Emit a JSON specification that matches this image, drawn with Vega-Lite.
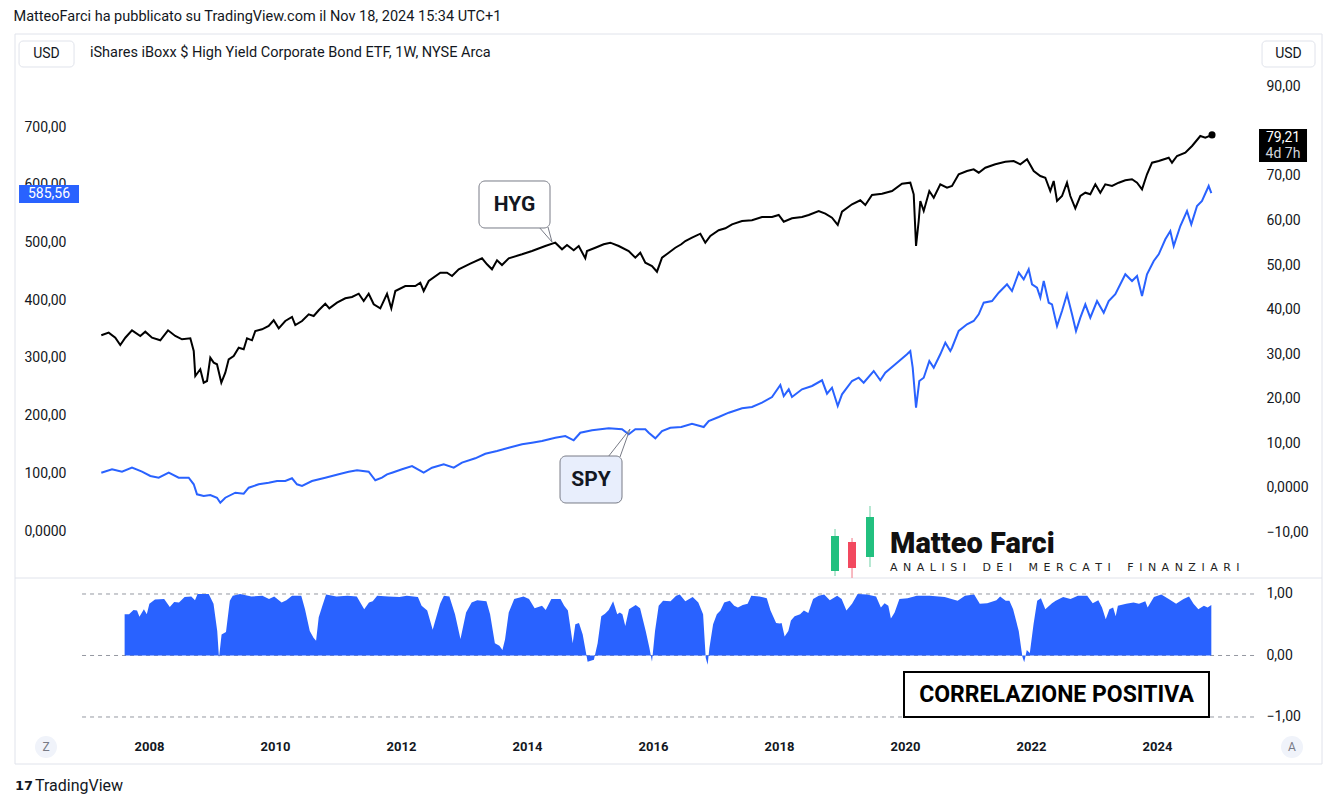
{
"$schema":"https://vega.github.io/schema/vega-lite/v6.json",
"background":"white",
"padding":{"left":13,"top":9,"right":0,"bottom":0},
"title":{"text":"MatteoFarci ha pubblicato su TradingView.com il Nov 18, 2024 15:34 UTC+1","anchor":"start","frame":"bounds","fontSize":14.5,"fontWeight":"normal","font":"Roboto","color":"#131722","offset":9,"dx":-1},
"spacing":0,
"bounds":"flush",
"config":{"view":{"stroke":null},"font":"Roboto","axis":{"labelFont":"Roboto","labelFontSize":14,"labelColor":"#131722"}},
"datasets":{
"spy":[{"t":2007.243,"v":101.0},{"t":2007.413,"v":106.9},{"t":2007.571,"v":102.8},{"t":2007.730,"v":109.7},{"t":2007.889,"v":102.8},{"t":2008.021,"v":95.3},{"t":2008.154,"v":92.4},{"t":2008.313,"v":101.0},{"t":2008.471,"v":92.4},{"t":2008.630,"v":92.4},{"t":2008.710,"v":80.9},{"t":2008.762,"v":63.6},{"t":2008.868,"v":60.6},{"t":2008.973,"v":62.4},{"t":2009.079,"v":57.7},{"t":2009.132,"v":49.0},{"t":2009.211,"v":57.7},{"t":2009.370,"v":66.4},{"t":2009.503,"v":64.6},{"t":2009.583,"v":75.0},{"t":2009.741,"v":80.9},{"t":2009.900,"v":83.7},{"t":2010.032,"v":86.6},{"t":2010.163,"v":86.6},{"t":2010.270,"v":91.3},{"t":2010.349,"v":80.9},{"t":2010.429,"v":78.0},{"t":2010.587,"v":86.6},{"t":2010.798,"v":92.4},{"t":2011.011,"v":98.2},{"t":2011.170,"v":102.8},{"t":2011.302,"v":105.2},{"t":2011.487,"v":102.8},{"t":2011.592,"v":87.9},{"t":2011.698,"v":92.4},{"t":2011.778,"v":98.2},{"t":2011.857,"v":101.0},{"t":2012.016,"v":106.9},{"t":2012.175,"v":112.6},{"t":2012.360,"v":101.0},{"t":2012.492,"v":109.7},{"t":2012.678,"v":115.6},{"t":2012.837,"v":109.7},{"t":2012.968,"v":118.4},{"t":2013.179,"v":126.0},{"t":2013.338,"v":133.9},{"t":2013.524,"v":138.6},{"t":2013.710,"v":144.3},{"t":2013.921,"v":150.2},{"t":2014.079,"v":153.0},{"t":2014.238,"v":156.0},{"t":2014.449,"v":161.7},{"t":2014.608,"v":164.6},{"t":2014.741,"v":157.2},{"t":2014.846,"v":170.3},{"t":2015.032,"v":174.5},{"t":2015.297,"v":178.0},{"t":2015.508,"v":176.2},{"t":2015.614,"v":167.6},{"t":2015.719,"v":176.2},{"t":2015.878,"v":176.2},{"t":2015.932,"v":170.3},{"t":2016.037,"v":160.6},{"t":2016.143,"v":173.3},{"t":2016.275,"v":179.0},{"t":2016.449,"v":180.2},{"t":2016.619,"v":185.9},{"t":2016.805,"v":180.2},{"t":2016.884,"v":190.6},{"t":2017.043,"v":197.5},{"t":2017.202,"v":205.0},{"t":2017.413,"v":212.6},{"t":2017.571,"v":214.9},{"t":2017.730,"v":222.3},{"t":2017.889,"v":232.2},{"t":2018.021,"v":253.0},{"t":2018.075,"v":233.9},{"t":2018.154,"v":245.5},{"t":2018.206,"v":232.2},{"t":2018.365,"v":245.5},{"t":2018.524,"v":251.3},{"t":2018.683,"v":261.1},{"t":2018.762,"v":237.9},{"t":2018.841,"v":248.3},{"t":2018.932,"v":216.6},{"t":2019.000,"v":236.9},{"t":2019.159,"v":259.9},{"t":2019.265,"v":265.6},{"t":2019.344,"v":257.0},{"t":2019.503,"v":277.2},{"t":2019.608,"v":261.1},{"t":2019.687,"v":274.3},{"t":2019.846,"v":288.9},{"t":2020.032,"v":306.2},{"t":2020.084,"v":311.9},{"t":2020.122,"v":283.0},{"t":2020.175,"v":213.7},{"t":2020.227,"v":259.9},{"t":2020.297,"v":265.6},{"t":2020.386,"v":294.6},{"t":2020.456,"v":283.0},{"t":2020.560,"v":306.2},{"t":2020.640,"v":326.3},{"t":2020.719,"v":311.9},{"t":2020.746,"v":317.6},{"t":2020.852,"v":346.6},{"t":2020.984,"v":358.2},{"t":2021.090,"v":363.9},{"t":2021.170,"v":375.5},{"t":2021.249,"v":395.6},{"t":2021.381,"v":398.5},{"t":2021.487,"v":412.9},{"t":2021.619,"v":427.5},{"t":2021.698,"v":415.9},{"t":2021.805,"v":447.6},{"t":2021.884,"v":436.1},{"t":2021.963,"v":453.5},{"t":2022.016,"v":427.5},{"t":2022.095,"v":421.6},{"t":2022.148,"v":404.3},{"t":2022.202,"v":433.2},{"t":2022.281,"v":395.6},{"t":2022.333,"v":392.8},{"t":2022.413,"v":355.2},{"t":2022.492,"v":381.2},{"t":2022.571,"v":410.2},{"t":2022.651,"v":375.5},{"t":2022.714,"v":346.6},{"t":2022.783,"v":369.6},{"t":2022.862,"v":392.8},{"t":2022.941,"v":369.6},{"t":2023.048,"v":398.5},{"t":2023.154,"v":378.3},{"t":2023.233,"v":398.5},{"t":2023.338,"v":410.2},{"t":2023.497,"v":444.8},{"t":2023.603,"v":433.2},{"t":2023.683,"v":441.9},{"t":2023.762,"v":407.2},{"t":2023.841,"v":444.8},{"t":2023.948,"v":467.9},{"t":2024.027,"v":479.5},{"t":2024.132,"v":505.5},{"t":2024.211,"v":519.8},{"t":2024.265,"v":493.8},{"t":2024.370,"v":528.5},{"t":2024.476,"v":554.5},{"t":2024.544,"v":531.4},{"t":2024.635,"v":563.2},{"t":2024.714,"v":571.8},{"t":2024.820,"v":597.8},{"t":2024.862,"v":585.56}],
"hyg":[{"t":2007.243,"v":34.25},{"t":2007.360,"v":34.84},{"t":2007.465,"v":33.71},{"t":2007.544,"v":32.08},{"t":2007.624,"v":33.71},{"t":2007.730,"v":35.37},{"t":2007.862,"v":34.10},{"t":2007.941,"v":35.06},{"t":2008.048,"v":33.71},{"t":2008.179,"v":33.13},{"t":2008.302,"v":35.37},{"t":2008.417,"v":34.10},{"t":2008.524,"v":33.36},{"t":2008.656,"v":33.58},{"t":2008.710,"v":30.73},{"t":2008.735,"v":25.12},{"t":2008.814,"v":26.63},{"t":2008.868,"v":23.62},{"t":2008.921,"v":24.00},{"t":2008.973,"v":29.23},{"t":2009.027,"v":28.11},{"t":2009.079,"v":27.75},{"t":2009.148,"v":23.62},{"t":2009.211,"v":25.86},{"t":2009.265,"v":28.87},{"t":2009.344,"v":29.61},{"t":2009.424,"v":31.47},{"t":2009.503,"v":31.11},{"t":2009.556,"v":33.58},{"t":2009.635,"v":33.13},{"t":2009.687,"v":35.22},{"t":2009.794,"v":35.60},{"t":2009.900,"v":36.34},{"t":2009.979,"v":37.62},{"t":2010.059,"v":35.82},{"t":2010.163,"v":37.46},{"t":2010.270,"v":38.36},{"t":2010.322,"v":36.56},{"t":2010.429,"v":37.46},{"t":2010.535,"v":38.96},{"t":2010.614,"v":38.58},{"t":2010.694,"v":39.86},{"t":2010.798,"v":41.34},{"t":2010.862,"v":40.31},{"t":2010.984,"v":41.57},{"t":2011.116,"v":42.55},{"t":2011.222,"v":42.84},{"t":2011.329,"v":43.58},{"t":2011.408,"v":41.95},{"t":2011.487,"v":43.58},{"t":2011.567,"v":41.21},{"t":2011.671,"v":40.31},{"t":2011.778,"v":43.58},{"t":2011.846,"v":40.31},{"t":2011.910,"v":44.19},{"t":2012.068,"v":45.31},{"t":2012.227,"v":45.31},{"t":2012.306,"v":46.05},{"t":2012.360,"v":44.19},{"t":2012.440,"v":46.43},{"t":2012.624,"v":48.30},{"t":2012.730,"v":48.30},{"t":2012.810,"v":47.56},{"t":2012.916,"v":49.06},{"t":2013.100,"v":50.31},{"t":2013.286,"v":51.53},{"t":2013.365,"v":50.18},{"t":2013.444,"v":49.06},{"t":2013.524,"v":51.08},{"t":2013.603,"v":50.02},{"t":2013.710,"v":51.53},{"t":2013.921,"v":52.42},{"t":2014.079,"v":53.16},{"t":2014.290,"v":54.28},{"t":2014.449,"v":55.03},{"t":2014.556,"v":53.54},{"t":2014.635,"v":54.51},{"t":2014.741,"v":53.32},{"t":2014.821,"v":54.28},{"t":2014.925,"v":51.53},{"t":2014.952,"v":53.16},{"t":2015.084,"v":53.90},{"t":2015.217,"v":54.67},{"t":2015.322,"v":55.03},{"t":2015.456,"v":54.28},{"t":2015.614,"v":53.16},{"t":2015.719,"v":51.66},{"t":2015.798,"v":52.78},{"t":2015.878,"v":50.54},{"t":2015.984,"v":49.80},{"t":2016.063,"v":48.52},{"t":2016.143,"v":51.66},{"t":2016.249,"v":52.78},{"t":2016.354,"v":53.90},{"t":2016.449,"v":54.67},{"t":2016.513,"v":55.41},{"t":2016.619,"v":56.15},{"t":2016.751,"v":57.04},{"t":2016.830,"v":55.03},{"t":2016.910,"v":56.53},{"t":2017.043,"v":57.81},{"t":2017.148,"v":58.25},{"t":2017.254,"v":59.15},{"t":2017.413,"v":59.89},{"t":2017.571,"v":60.05},{"t":2017.730,"v":60.79},{"t":2017.889,"v":60.79},{"t":2017.995,"v":61.24},{"t":2018.075,"v":59.74},{"t":2018.206,"v":60.50},{"t":2018.365,"v":60.79},{"t":2018.471,"v":61.24},{"t":2018.630,"v":62.14},{"t":2018.735,"v":61.53},{"t":2018.841,"v":60.63},{"t":2018.932,"v":59.00},{"t":2019.000,"v":61.98},{"t":2019.159,"v":63.64},{"t":2019.290,"v":64.54},{"t":2019.370,"v":63.48},{"t":2019.476,"v":65.72},{"t":2019.635,"v":66.02},{"t":2019.794,"v":66.62},{"t":2019.952,"v":68.26},{"t":2020.084,"v":68.48},{"t":2020.138,"v":65.88},{"t":2020.175,"v":54.28},{"t":2020.217,"v":59.89},{"t":2020.243,"v":64.38},{"t":2020.297,"v":62.14},{"t":2020.386,"v":66.62},{"t":2020.456,"v":65.12},{"t":2020.560,"v":68.12},{"t":2020.667,"v":67.36},{"t":2020.746,"v":67.74},{"t":2020.852,"v":70.37},{"t":2020.984,"v":71.11},{"t":2021.090,"v":71.49},{"t":2021.170,"v":70.73},{"t":2021.275,"v":71.85},{"t":2021.433,"v":72.61},{"t":2021.592,"v":73.19},{"t":2021.725,"v":73.35},{"t":2021.830,"v":72.61},{"t":2021.937,"v":73.73},{"t":2022.043,"v":71.11},{"t":2022.148,"v":69.99},{"t":2022.227,"v":69.61},{"t":2022.306,"v":66.62},{"t":2022.360,"v":68.86},{"t":2022.413,"v":64.38},{"t":2022.492,"v":65.50},{"t":2022.571,"v":68.48},{"t":2022.624,"v":65.50},{"t":2022.703,"v":62.74},{"t":2022.783,"v":65.50},{"t":2022.862,"v":66.24},{"t":2022.941,"v":65.88},{"t":2023.021,"v":68.12},{"t":2023.100,"v":66.24},{"t":2023.179,"v":68.12},{"t":2023.286,"v":67.74},{"t":2023.392,"v":68.48},{"t":2023.497,"v":69.02},{"t":2023.603,"v":69.25},{"t":2023.683,"v":68.48},{"t":2023.762,"v":67.00},{"t":2023.841,"v":70.37},{"t":2023.921,"v":72.97},{"t":2024.027,"v":73.35},{"t":2024.186,"v":74.09},{"t":2024.238,"v":72.97},{"t":2024.317,"v":74.47},{"t":2024.449,"v":75.21},{"t":2024.556,"v":76.72},{"t":2024.687,"v":78.96},{"t":2024.767,"v":78.58},{"t":2024.873,"v":79.21}],
"corr":[{"t":2007.613,"c":0.67},{"t":2007.683,"c":0.67},{"t":2007.754,"c":0.74},{"t":2007.810,"c":0.73},{"t":2007.848,"c":0.63},{"t":2007.919,"c":0.75},{"t":2007.965,"c":0.67},{"t":2008.006,"c":0.84},{"t":2008.095,"c":0.91},{"t":2008.241,"c":0.92},{"t":2008.330,"c":0.79},{"t":2008.400,"c":0.87},{"t":2008.476,"c":0.86},{"t":2008.565,"c":0.95},{"t":2008.671,"c":0.96},{"t":2008.730,"c":0.90},{"t":2008.771,"c":1.0},{"t":2008.948,"c":1.0},{"t":2009.024,"c":0.84},{"t":2009.083,"c":0.40},{"t":2009.111,"c":-0.04},{"t":2009.152,"c":0.34},{"t":2009.222,"c":0.38},{"t":2009.283,"c":0.89},{"t":2009.329,"c":0.97},{"t":2009.446,"c":1.0},{"t":2009.624,"c":0.96},{"t":2009.800,"c":0.97},{"t":2009.905,"c":0.92},{"t":2009.987,"c":0.96},{"t":2010.105,"c":0.86},{"t":2010.181,"c":0.90},{"t":2010.270,"c":0.97},{"t":2010.417,"c":0.97},{"t":2010.476,"c":0.75},{"t":2010.552,"c":0.40},{"t":2010.611,"c":0.29},{"t":2010.652,"c":0.24},{"t":2010.694,"c":0.62},{"t":2010.752,"c":0.81},{"t":2010.811,"c":0.99},{"t":2010.975,"c":0.96},{"t":2011.152,"c":0.97},{"t":2011.298,"c":0.96},{"t":2011.416,"c":0.75},{"t":2011.492,"c":0.86},{"t":2011.551,"c":0.88},{"t":2011.622,"c":0.97},{"t":2011.798,"c":0.96},{"t":2011.975,"c":0.95},{"t":2012.092,"c":0.97},{"t":2012.268,"c":0.95},{"t":2012.327,"c":0.81},{"t":2012.416,"c":0.73},{"t":2012.503,"c":0.42},{"t":2012.533,"c":0.53},{"t":2012.621,"c":0.84},{"t":2012.681,"c":0.97},{"t":2012.768,"c":0.96},{"t":2012.857,"c":0.67},{"t":2012.944,"c":0.27},{"t":2013.033,"c":0.70},{"t":2013.121,"c":0.86},{"t":2013.210,"c":0.90},{"t":2013.356,"c":0.88},{"t":2013.414,"c":0.67},{"t":2013.490,"c":0.20},{"t":2013.562,"c":0.16},{"t":2013.610,"c":0.09},{"t":2013.651,"c":0.26},{"t":2013.710,"c":0.70},{"t":2013.797,"c":0.92},{"t":2013.944,"c":0.96},{"t":2014.032,"c":0.92},{"t":2014.121,"c":0.77},{"t":2014.238,"c":0.81},{"t":2014.297,"c":0.74},{"t":2014.386,"c":0.92},{"t":2014.532,"c":0.92},{"t":2014.590,"c":0.81},{"t":2014.649,"c":0.73},{"t":2014.725,"c":0.20},{"t":2014.767,"c":0.51},{"t":2014.825,"c":0.53},{"t":2014.884,"c":0.34},{"t":2014.962,"c":-0.10},{"t":2015.062,"c":-0.07},{"t":2015.121,"c":0.20},{"t":2015.179,"c":0.64},{"t":2015.238,"c":0.68},{"t":2015.297,"c":0.74},{"t":2015.367,"c":0.88},{"t":2015.432,"c":0.67},{"t":2015.473,"c":0.70},{"t":2015.514,"c":0.67},{"t":2015.560,"c":0.48},{"t":2015.619,"c":0.75},{"t":2015.725,"c":0.82},{"t":2015.795,"c":0.77},{"t":2015.884,"c":0.40},{"t":2015.943,"c":0.12},{"t":2015.984,"c":-0.10},{"t":2016.032,"c":0.40},{"t":2016.090,"c":0.81},{"t":2016.160,"c":0.89},{"t":2016.278,"c":0.88},{"t":2016.367,"c":0.97},{"t":2016.425,"c":0.99},{"t":2016.513,"c":0.88},{"t":2016.630,"c":0.95},{"t":2016.719,"c":0.86},{"t":2016.795,"c":0.67},{"t":2016.837,"c":-0.04},{"t":2016.867,"c":-0.15},{"t":2016.895,"c":0.12},{"t":2016.954,"c":0.51},{"t":2017.013,"c":0.67},{"t":2017.071,"c":0.73},{"t":2017.130,"c":0.86},{"t":2017.219,"c":0.89},{"t":2017.289,"c":0.81},{"t":2017.348,"c":0.78},{"t":2017.424,"c":0.82},{"t":2017.502,"c":0.84},{"t":2017.560,"c":0.97},{"t":2017.689,"c":0.96},{"t":2017.806,"c":0.93},{"t":2017.865,"c":0.73},{"t":2017.954,"c":0.53},{"t":2018.013,"c":0.52},{"t":2018.041,"c":0.53},{"t":2018.089,"c":0.31},{"t":2018.148,"c":0.40},{"t":2018.189,"c":0.57},{"t":2018.248,"c":0.64},{"t":2018.335,"c":0.67},{"t":2018.395,"c":0.73},{"t":2018.465,"c":0.69},{"t":2018.541,"c":0.92},{"t":2018.630,"c":0.97},{"t":2018.717,"c":0.99},{"t":2018.806,"c":0.90},{"t":2018.924,"c":0.97},{"t":2018.994,"c":0.92},{"t":2019.070,"c":0.73},{"t":2019.159,"c":0.84},{"t":2019.248,"c":1.0},{"t":2019.394,"c":0.99},{"t":2019.541,"c":0.96},{"t":2019.617,"c":0.78},{"t":2019.676,"c":0.85},{"t":2019.735,"c":0.81},{"t":2019.776,"c":0.60},{"t":2019.835,"c":0.70},{"t":2019.911,"c":0.92},{"t":2020.041,"c":0.93},{"t":2020.187,"c":0.97},{"t":2020.394,"c":0.97},{"t":2020.629,"c":0.95},{"t":2020.835,"c":0.89},{"t":2020.952,"c":0.97},{"t":2021.098,"c":0.99},{"t":2021.187,"c":0.84},{"t":2021.305,"c":0.85},{"t":2021.451,"c":0.90},{"t":2021.510,"c":0.96},{"t":2021.598,"c":0.89},{"t":2021.657,"c":0.89},{"t":2021.716,"c":0.75},{"t":2021.805,"c":0.40},{"t":2021.863,"c":-0.02},{"t":2021.892,"c":-0.11},{"t":2021.933,"c":0.09},{"t":2021.981,"c":0.04},{"t":2022.040,"c":0.51},{"t":2022.098,"c":0.89},{"t":2022.157,"c":0.93},{"t":2022.227,"c":0.75},{"t":2022.333,"c":0.85},{"t":2022.392,"c":0.89},{"t":2022.510,"c":0.95},{"t":2022.627,"c":0.92},{"t":2022.744,"c":0.97},{"t":2022.892,"c":0.97},{"t":2022.979,"c":0.85},{"t":2023.068,"c":0.90},{"t":2023.127,"c":0.78},{"t":2023.186,"c":0.59},{"t":2023.244,"c":0.75},{"t":2023.303,"c":0.78},{"t":2023.344,"c":0.64},{"t":2023.379,"c":0.81},{"t":2023.510,"c":0.84},{"t":2023.627,"c":0.86},{"t":2023.714,"c":0.84},{"t":2023.814,"c":0.88},{"t":2023.851,"c":0.78},{"t":2023.951,"c":0.95},{"t":2024.068,"c":0.99},{"t":2024.186,"c":0.92},{"t":2024.303,"c":0.84},{"t":2024.421,"c":0.92},{"t":2024.508,"c":0.96},{"t":2024.579,"c":0.84},{"t":2024.656,"c":0.75},{"t":2024.744,"c":0.81},{"t":2024.803,"c":0.78},{"t":2024.862,"c":0.82}]
},
"vconcat":[
{
"width":1242,"height":544,
"resolve":{"scale":{"x":"independent","y":"independent"}},
"layer":[
{"data":{"values":[{}]},"mark":{"type":"rect","filled":false,"color":"#e0e3eb","strokeWidth":1,"clip":false},"encoding":{"x":{"datum":2005.873,"type":"quantitative","scale":{"domain":[2005.873,2025.587],"nice":false,"zero":false},"axis":null},"x2":{"datum":2026.619},"y":{"datum":861.2,"type":"quantitative","scale":{"domain":[-81.44,861.2],"nice":false,"zero":false},"axis":null},"y2":{"datum":-403.74}}},
{"data":{"values":[{}]},"mark":{"type":"rule","color":"#e0e3eb","strokeWidth":1,"clip":false},"encoding":{"x":{"datum":2005.873,"type":"quantitative","scale":{"domain":[2005.873,2025.587],"nice":false,"zero":false},"axis":null},"x2":{"datum":2026.619},"y":{"datum":-81.44,"type":"quantitative","scale":{"domain":[-81.44,861.2],"nice":false,"zero":false},"axis":null}}},
{"data":{"name":"spy"},"mark":{"type":"line","color":"#2962FF","strokeWidth":2},"encoding":{"x":{"field":"t","type":"quantitative","scale":{"domain":[2005.873,2025.587],"nice":false,"zero":false},"axis":null},"y":{"field":"v","type":"quantitative","scale":{"domain":[-81.44,861.2],"nice":false,"zero":false},"axis":{"orient":"left","values":[0,100,200,300,400,500,600,700],"labelExpr":"datum.value == 0 ? '0,0000' : replace(format(datum.value, '.2f'), '.', ',')","offset":-51,"labelPadding":0,"ticks":false,"domain":false,"grid":false,"zindex":0,"title":null}}}},
{"data":{"values":[{}]},"mark":{"type":"rule","color":"#787b86","strokeWidth":1,"clip":false},"encoding":{"x":{"datum":2014.190,"type":"quantitative","scale":{"domain":[2005.873,2025.587],"nice":false,"zero":false},"axis":null},"x2":{"datum":2014.397},"y":{"datum":526.77,"type":"quantitative","scale":{"domain":[-81.44,861.2],"nice":false,"zero":false},"axis":null},"y2":{"datum":500.78}}},
{"data":{"values":[{}]},"mark":{"type":"rule","color":"#787b86","strokeWidth":1,"clip":false},"encoding":{"x":{"datum":2014.397,"type":"quantitative","scale":{"domain":[2005.873,2025.587],"nice":false,"zero":false},"axis":null},"x2":{"datum":2014.333},"y":{"datum":500.78,"type":"quantitative","scale":{"domain":[-81.44,861.2],"nice":false,"zero":false},"axis":null},"y2":{"datum":526.77}}},
{"data":{"values":[{}]},"mark":{"type":"rect","fill":"white","stroke":"#787b86","strokeWidth":1,"cornerRadius":6,"clip":false},"encoding":{"x":{"datum":2013.238,"type":"quantitative","scale":{"domain":[2005.873,2025.587],"nice":false,"zero":false},"axis":null},"x2":{"datum":2014.365},"y":{"datum":606.48,"type":"quantitative","scale":{"domain":[-81.44,861.2],"nice":false,"zero":false},"axis":null},"y2":{"datum":525.04}}},
{"data":{"values":[{}]},"mark":{"type":"text","text":"HYG","font":"Roboto","fontSize":21,"fontWeight":"bold","color":"#131722","align":"center","baseline":"middle","clip":false},"encoding":{"x":{"datum":2013.802,"type":"quantitative","scale":{"domain":[2005.873,2025.587],"nice":false,"zero":false},"axis":null},"y":{"datum":564.89,"type":"quantitative","scale":{"domain":[-81.44,861.2],"nice":false,"zero":false},"axis":null}}},
{"data":{"values":[{}]},"mark":{"type":"rule","color":"#787b86","strokeWidth":1,"clip":false},"encoding":{"x":{"datum":2015.286,"type":"quantitative","scale":{"domain":[2005.873,2025.587],"nice":false,"zero":false},"axis":null},"x2":{"datum":2015.635},"y":{"datum":128.23,"type":"quantitative","scale":{"domain":[-81.44,861.2],"nice":false,"zero":false},"axis":null},"y2":{"datum":176.75}}},
{"data":{"values":[{}]},"mark":{"type":"rule","color":"#787b86","strokeWidth":1,"clip":false},"encoding":{"x":{"datum":2015.635,"type":"quantitative","scale":{"domain":[2005.873,2025.587],"nice":false,"zero":false},"axis":null},"x2":{"datum":2015.476},"y":{"datum":176.75,"type":"quantitative","scale":{"domain":[-81.44,861.2],"nice":false,"zero":false},"axis":null},"y2":{"datum":128.23}}},
{"data":{"values":[{}]},"mark":{"type":"rect","fill":"#e8eefc","stroke":"#787b86","strokeWidth":1,"cornerRadius":6,"clip":false},"encoding":{"x":{"datum":2014.524,"type":"quantitative","scale":{"domain":[2005.873,2025.587],"nice":false,"zero":false},"axis":null},"x2":{"datum":2015.508},"y":{"datum":129.96,"type":"quantitative","scale":{"domain":[-81.44,861.2],"nice":false,"zero":false},"axis":null},"y2":{"datum":48.52}}},
{"data":{"values":[{}]},"mark":{"type":"text","text":"SPY","font":"Roboto","fontSize":21,"fontWeight":"bold","color":"#131722","align":"center","baseline":"middle","clip":false},"encoding":{"x":{"datum":2015.016,"type":"quantitative","scale":{"domain":[2005.873,2025.587],"nice":false,"zero":false},"axis":null},"y":{"datum":88.37,"type":"quantitative","scale":{"domain":[-81.44,861.2],"nice":false,"zero":false},"axis":null}}},
{"data":{"values":[{}]},"mark":{"type":"rect","fill":"#2962FF","clip":false},"encoding":{"x":{"datum":2005.937,"type":"quantitative","scale":{"domain":[2005.873,2025.587],"nice":false,"zero":false},"axis":null},"x2":{"datum":2006.889},"y":{"datum":599.55,"type":"quantitative","scale":{"domain":[-81.44,861.2],"nice":false,"zero":false},"axis":null},"y2":{"datum":568.36}}},
{"data":{"values":[{}]},"mark":{"type":"text","text":"585,56","font":"Roboto","fontSize":14,"color":"white","align":"center","baseline":"middle","clip":false},"encoding":{"x":{"datum":2006.413,"type":"quantitative","scale":{"domain":[2005.873,2025.587],"nice":false,"zero":false},"axis":null},"y":{"datum":583.95,"type":"quantitative","scale":{"domain":[-81.44,861.2],"nice":false,"zero":false},"axis":null}}},
{"data":{"values":[{}]},"mark":{"type":"text","text":"iShares iBoxx $ High Yield Corporate Bond ETF, 1W, NYSE Arca","font":"Roboto","fontSize":14.5,"color":"#131722","align":"left","baseline":"middle","clip":false},"encoding":{"x":{"datum":2007.063,"type":"quantitative","scale":{"domain":[2005.873,2025.587],"nice":false,"zero":false},"axis":null},"y":{"datum":828.28,"type":"quantitative","scale":{"domain":[-81.44,861.2],"nice":false,"zero":false},"axis":null}}},
{"data":{"values":[{}]},"mark":{"type":"rect","fill":"white","stroke":"#e0e3eb","strokeWidth":1,"cornerRadius":4,"clip":false},"encoding":{"x":{"datum":2005.937,"type":"quantitative","scale":{"domain":[2005.873,2025.587],"nice":false,"zero":false},"axis":null},"x2":{"datum":2006.810},"y":{"datum":849.07,"type":"quantitative","scale":{"domain":[-81.44,861.2],"nice":false,"zero":false},"axis":null},"y2":{"datum":804.02}}},
{"data":{"values":[{}]},"mark":{"type":"text","text":"USD","font":"Roboto","fontSize":14,"color":"#131722","align":"center","baseline":"middle","clip":false},"encoding":{"x":{"datum":2006.373,"type":"quantitative","scale":{"domain":[2005.873,2025.587],"nice":false,"zero":false},"axis":null},"y":{"datum":826.55,"type":"quantitative","scale":{"domain":[-81.44,861.2],"nice":false,"zero":false},"axis":null}}},
{"data":{"values":[{}]},"mark":{"type":"rect","fill":"white","stroke":"#e0e3eb","strokeWidth":1,"cornerRadius":4,"clip":false},"encoding":{"x":{"datum":2025.667,"type":"quantitative","scale":{"domain":[2005.873,2025.587],"nice":false,"zero":false},"axis":null},"x2":{"datum":2026.508},"y":{"datum":849.07,"type":"quantitative","scale":{"domain":[-81.44,861.2],"nice":false,"zero":false},"axis":null},"y2":{"datum":804.02}}},
{"data":{"values":[{}]},"mark":{"type":"text","text":"USD","font":"Roboto","fontSize":14,"color":"#131722","align":"center","baseline":"middle","clip":false},"encoding":{"x":{"datum":2026.087,"type":"quantitative","scale":{"domain":[2005.873,2025.587],"nice":false,"zero":false},"axis":null},"y":{"datum":826.55,"type":"quantitative","scale":{"domain":[-81.44,861.2],"nice":false,"zero":false},"axis":null}}},
{"data":{"values":[{}]},"mark":{"type":"rule","color":"#9fe0c3","strokeWidth":1.5,"clip":false},"encoding":{"x":{"datum":2018.889,"type":"quantitative","scale":{"domain":[2005.873,2025.587],"nice":false,"zero":false},"axis":null},"y":{"datum":3.47,"type":"quantitative","scale":{"domain":[-81.44,861.2],"nice":false,"zero":false},"axis":null},"y2":{"datum":-77.98}}},
{"data":{"values":[{}]},"mark":{"type":"rect","fill":"#22c07f","clip":false},"encoding":{"x":{"datum":2018.825,"type":"quantitative","scale":{"domain":[2005.873,2025.587],"nice":false,"zero":false},"axis":null},"x2":{"datum":2018.952},"y":{"datum":-8.66,"type":"quantitative","scale":{"domain":[-81.44,861.2],"nice":false,"zero":false},"axis":null},"y2":{"datum":-69.31}}},
{"data":{"values":[{}]},"mark":{"type":"rule","color":"#f5a3ad","strokeWidth":1.5,"clip":false},"encoding":{"x":{"datum":2019.159,"type":"quantitative","scale":{"domain":[2005.873,2025.587],"nice":false,"zero":false},"axis":null},"y":{"datum":-12.13,"type":"quantitative","scale":{"domain":[-81.44,861.2],"nice":false,"zero":false},"axis":null},"y2":{"datum":-81.44}}},
{"data":{"values":[{}]},"mark":{"type":"rect","fill":"#f2495f","clip":false},"encoding":{"x":{"datum":2019.095,"type":"quantitative","scale":{"domain":[2005.873,2025.587],"nice":false,"zero":false},"axis":null},"x2":{"datum":2019.222},"y":{"datum":-19.06,"type":"quantitative","scale":{"domain":[-81.44,861.2],"nice":false,"zero":false},"axis":null},"y2":{"datum":-64.11}}},
{"data":{"values":[{}]},"mark":{"type":"rule","color":"#9fe0c3","strokeWidth":1.5,"clip":false},"encoding":{"x":{"datum":2019.444,"type":"quantitative","scale":{"domain":[2005.873,2025.587],"nice":false,"zero":false},"axis":null},"y":{"datum":43.32,"type":"quantitative","scale":{"domain":[-81.44,861.2],"nice":false,"zero":false},"axis":null},"y2":{"datum":-62.38}}},
{"data":{"values":[{}]},"mark":{"type":"rect","fill":"#22c07f","clip":false},"encoding":{"x":{"datum":2019.381,"type":"quantitative","scale":{"domain":[2005.873,2025.587],"nice":false,"zero":false},"axis":null},"x2":{"datum":2019.508},"y":{"datum":24.26,"type":"quantitative","scale":{"domain":[-81.44,861.2],"nice":false,"zero":false},"axis":null},"y2":{"datum":-45.05}}},
{"data":{"values":[{}]},"mark":{"type":"text","text":"Matteo Farci","font":"Roboto","fontSize":29,"fontWeight":900,"color":"#111111","align":"left","baseline":"alphabetic","clip":false},"encoding":{"x":{"datum":2019.762,"type":"quantitative","scale":{"domain":[2005.873,2025.587],"nice":false,"zero":false},"axis":null},"y":{"datum":-38.12,"type":"quantitative","scale":{"domain":[-81.44,861.2],"nice":false,"zero":false},"axis":null}}},
{"data":{"values":[{}]},"mark":{"type":"text","text":"A\u2002N\u2002A\u2002L\u2002I\u2002S\u2002I\u2002\u2002\u2002D\u2002E\u2002I\u2002\u2002\u2002M\u2002E\u2002R\u2002C\u2002A\u2002T\u2002I\u2002\u2002\u2002F\u2002I\u2002N\u2002A\u2002N\u2002Z\u2002I\u2002A\u2002R\u2002I","font":"DejaVu Sans","fontSize":11,"color":"#222222","align":"left","baseline":"alphabetic","clip":false},"encoding":{"x":{"datum":2019.762,"type":"quantitative","scale":{"domain":[2005.873,2025.587],"nice":false,"zero":false},"axis":null},"y":{"datum":-69.31,"type":"quantitative","scale":{"domain":[-81.44,861.2],"nice":false,"zero":false},"axis":null}}},
{"data":{"name":"hyg"},"mark":{"type":"line","color":"#000000","strokeWidth":2},"encoding":{"x":{"field":"t","type":"quantitative","scale":{"domain":[2005.873,2025.587],"nice":false,"zero":false},"axis":null},"y":{"field":"v","type":"quantitative","scale":{"domain":[-20.19,101.84],"nice":false,"zero":false},"axis":{"orient":"right","values":[-10,0,10,20,30,40,50,60,70,90],"labelExpr":"datum.value == 0 ? '0,0000' : replace(format(datum.value, '.2f'), '.', ',')","labelPadding":9,"ticks":false,"domain":false,"grid":false,"zindex":0,"title":null}}}},
{"data":{"values":[{}]},"mark":{"type":"point","filled":true,"size":50,"color":"#000000","opacity":1},"encoding":{"x":{"datum":2024.873,"type":"quantitative","scale":{"domain":[2005.873,2025.587],"nice":false,"zero":false},"axis":null},"y":{"datum":79.21,"type":"quantitative","scale":{"domain":[-20.19,101.84],"nice":false,"zero":false},"axis":null}}},
{"data":{"values":[{}]},"mark":{"type":"rect","fill":"#000000","clip":false},"encoding":{"x":{"datum":2025.619,"type":"quantitative","scale":{"domain":[2005.873,2025.587],"nice":false,"zero":false},"axis":null},"x2":{"datum":2026.381},"y":{"datum":696.6,"type":"quantitative","scale":{"domain":[-81.44,861.2],"nice":false,"zero":false},"axis":null},"y2":{"datum":639.4}}},
{"data":{"values":[{}]},"mark":{"type":"text","text":"79,21","font":"Roboto","fontSize":14,"color":"white","align":"center","baseline":"middle","clip":false},"encoding":{"x":{"datum":2026.0,"type":"quantitative","scale":{"domain":[2005.873,2025.587],"nice":false,"zero":false},"axis":null},"y":{"datum":681.0,"type":"quantitative","scale":{"domain":[-81.44,861.2],"nice":false,"zero":false},"axis":null}}},
{"data":{"values":[{}]},"mark":{"type":"text","text":"4d 7h","font":"Roboto","fontSize":14,"color":"#d1d4dc","align":"center","baseline":"middle","clip":false},"encoding":{"x":{"datum":2026.0,"type":"quantitative","scale":{"domain":[2005.873,2025.587],"nice":false,"zero":false},"axis":null},"y":{"datum":653.27,"type":"quantitative","scale":{"domain":[-81.44,861.2],"nice":false,"zero":false},"axis":null}}}
]
},
{
"width":1242,"height":158,
"resolve":{"scale":{"x":"independent","y":"independent"}},
"layer":[
{"data":{"values":[{"level":1},{"level":0},{"level":-1}]},"mark":{"type":"rule","color":"#9598a1","strokeWidth":1,"strokeDash":[4,4]},"encoding":{"x":{"datum":2006.937,"type":"quantitative","scale":{"domain":[2005.873,2025.587],"nice":false,"zero":false},"axis":null},"x2":{"datum":2025.587},"y":{"field":"level","type":"quantitative","scale":{"domain":[-1.309,1.26],"nice":false,"zero":false},"axis":{"orient":"right","values":[-1,0,1],"labelExpr":"replace(format(datum.value, '.2f'), '.', ',')","labelPadding":9,"ticks":false,"domain":false,"grid":false,"title":null}}}},
{"data":{"name":"corr"},"mark":{"type":"area","color":"#2962FF","opacity":1},"encoding":{"x":{"field":"t","type":"quantitative","scale":{"domain":[2005.873,2025.587],"nice":false,"zero":false},"axis":{"orient":"bottom","values":[2008,2010,2012,2014,2016,2018,2020,2022,2024],"format":"d","labelPadding":4,"labelFontWeight":"bold","labelFontSize":13,"ticks":false,"domain":false,"grid":false,"title":null}},"y":{"field":"c","type":"quantitative","scale":{"domain":[-1.309,1.26],"nice":false,"zero":false},"axis":null},"y2":{"datum":0}}},
{"data":{"values":[{}]},"mark":{"type":"rect","fill":"white","stroke":"#000000","strokeWidth":2,"clip":false},"encoding":{"x":{"datum":2019.984,"type":"quantitative","scale":{"domain":[2005.873,2025.587],"nice":false,"zero":false},"axis":null},"x2":{"datum":2024.825},"y":{"datum":-0.268,"type":"quantitative","scale":{"domain":[-1.309,1.26],"nice":false,"zero":false},"axis":null},"y2":{"datum":-1.0}}},
{"data":{"values":[{}]},"mark":{"type":"text","text":"CORRELAZIONE POSITIVA","font":"Roboto","fontSize":23,"fontWeight":"bold","color":"#000000","align":"center","baseline":"middle","clip":false},"encoding":{"x":{"datum":2022.405,"type":"quantitative","scale":{"domain":[2005.873,2025.587],"nice":false,"zero":false},"axis":null},"y":{"datum":-0.642,"type":"quantitative","scale":{"domain":[-1.309,1.26],"nice":false,"zero":false},"axis":null}}},
{"data":{"values":[{}]},"mark":{"type":"point","filled":true,"size":484,"color":"#f0f3fa","opacity":1,"clip":false},"encoding":{"x":{"datum":2006.365,"type":"quantitative","scale":{"domain":[2005.873,2025.587],"nice":false,"zero":false},"axis":null},"y":{"datum":-1.488,"type":"quantitative","scale":{"domain":[-1.309,1.26],"nice":false,"zero":false},"axis":null}}},
{"data":{"values":[{}]},"mark":{"type":"text","text":"Z","font":"Roboto","fontSize":12,"color":"#787b86","align":"center","baseline":"middle","clip":false},"encoding":{"x":{"datum":2006.365,"type":"quantitative","scale":{"domain":[2005.873,2025.587],"nice":false,"zero":false},"axis":null},"y":{"datum":-1.488,"type":"quantitative","scale":{"domain":[-1.309,1.26],"nice":false,"zero":false},"axis":null}}},
{"data":{"values":[{}]},"mark":{"type":"point","filled":true,"size":484,"color":"#f0f3fa","opacity":1,"clip":false},"encoding":{"x":{"datum":2026.143,"type":"quantitative","scale":{"domain":[2005.873,2025.587],"nice":false,"zero":false},"axis":null},"y":{"datum":-1.488,"type":"quantitative","scale":{"domain":[-1.309,1.26],"nice":false,"zero":false},"axis":null}}},
{"data":{"values":[{}]},"mark":{"type":"text","text":"A","font":"Roboto","fontSize":12,"color":"#787b86","align":"center","baseline":"middle","clip":false},"encoding":{"x":{"datum":2026.143,"type":"quantitative","scale":{"domain":[2005.873,2025.587],"nice":false,"zero":false},"axis":null},"y":{"datum":-1.488,"type":"quantitative","scale":{"domain":[-1.309,1.26],"nice":false,"zero":false},"axis":null}}},
{"data":{"values":[{}]},"mark":{"type":"text","text":"17","font":"DejaVu Sans","fontSize":13,"fontWeight":"bold","color":"#131722","align":"left","baseline":"middle","clip":false},"encoding":{"x":{"datum":2005.873,"type":"quantitative","scale":{"domain":[2005.873,2025.587],"nice":false,"zero":false},"axis":null},"y":{"datum":-2.122,"type":"quantitative","scale":{"domain":[-1.309,1.26],"nice":false,"zero":false},"axis":null}}},
{"data":{"values":[{}]},"mark":{"type":"text","text":"TradingView","font":"Roboto","fontSize":16,"color":"#131722","align":"left","baseline":"middle","clip":false},"encoding":{"x":{"datum":2006.190,"type":"quantitative","scale":{"domain":[2005.873,2025.587],"nice":false,"zero":false},"axis":null},"y":{"datum":-2.122,"type":"quantitative","scale":{"domain":[-1.309,1.26],"nice":false,"zero":false},"axis":null}}}
]
}
]
}
